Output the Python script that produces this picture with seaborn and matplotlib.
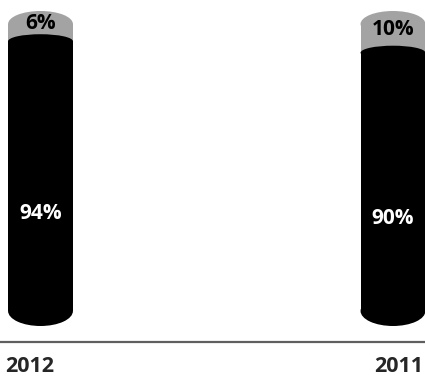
import pandas as pd
import matplotlib.pyplot as plt
import seaborn as sns
from matplotlib.patches import Ellipse

# chart data
years = ['2012', '2011']
dark_share = [94, 90]
light_share = [6, 10]
total = [d + l for d, l in zip(dark_share, light_share)]

df = pd.DataFrame({'year': years, 'dark': dark_share, 'light': light_share, 'total': total})

sns.set_style('white')
plt.rcParams['font.family'] = ['Open Sans', 'DejaVu Sans']

BLACK = '#000000'
GRAY = '#a3a3a3'
BAR_W = 0.184          # in category units
PX_PER_Y = 2.87        # pixels per percent
W_PX, H_PX = 425, 377
TOP_PX, MID_PX, BOT_PX = 13, 7, 15   # half heights of the caps

fig = plt.figure(figsize=(W_PX / 100, H_PX / 100), dpi=100)
ax = fig.add_axes([0, 0, 1, 1])

# stacked bars: full height in gray, then the dark part over it
sns.barplot(data=df, x='year', y='total', order=years, color=GRAY,
            width=BAR_W, linewidth=0, saturation=1, ax=ax)
sns.barplot(data=df, x='year', y='dark', order=years, color=BLACK,
            width=BAR_W, linewidth=0, saturation=1, ax=ax)

# cylinder caps and labels
for i, row in df.iterrows():
    ax.add_patch(Ellipse((i, row['total']), BAR_W, 2 * TOP_PX / PX_PER_Y,
                         color=GRAY, lw=0, zorder=3))
    ax.add_patch(Ellipse((i, row['dark']), BAR_W, 2 * MID_PX / PX_PER_Y,
                         color=BLACK, lw=0, zorder=4))
    ax.add_patch(Ellipse((i, 0), BAR_W, 2 * BOT_PX / PX_PER_Y,
                         color=BLACK, lw=0, zorder=4))
    ax.text(i, row['dark'] * 0.36, f"{row['dark']}%", color='white', ha='center',
            va='center', fontsize=15, fontweight='bold', zorder=5)
    y_light = (row['dark'] + MID_PX / PX_PER_Y + row['total'] + 11 / PX_PER_Y) / 2
    ax.text(i, y_light, f"{row['light']}%", color='black', ha='center', va='center',
            fontsize=15, fontweight='bold', zorder=5)

# map data to pixel layout of the reference
x_scale = 352.5
xmin = -40.5 / x_scale
ax.set_xlim(xmin, xmin + W_PX / x_scale)
ax.set_ylim((311 - H_PX) / PX_PER_Y, 311 / PX_PER_Y)

ax.axhline((311 - 342) / PX_PER_Y, color='#5f5f5f', lw=1.6, zorder=1)

ax.text(5 / W_PX, 1 - 366 / H_PX, years[0], transform=ax.transAxes, ha='left',
        va='center', fontsize=15.5, fontweight='bold')
ax.text(423 / W_PX, 1 - 366 / H_PX, years[1], transform=ax.transAxes, ha='right',
        va='center', fontsize=15.5, fontweight='bold')

ax.set_axis_off()
plt.savefig('out.png', dpi=100)
